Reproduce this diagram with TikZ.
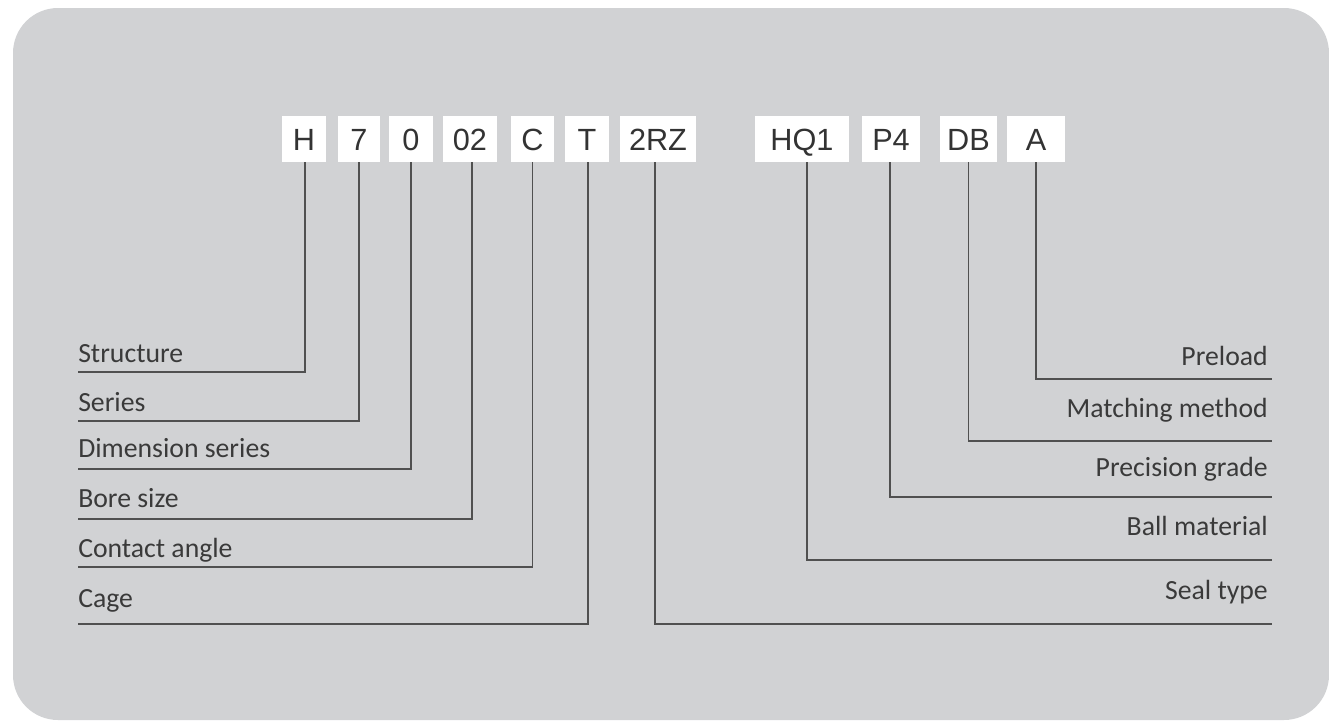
\documentclass[tikz,border=0pt]{standalone}
\usepackage{fontspec}
\setmainfont{Carlito}
\newfontfamily\boxfont{Liberation Sans}
\definecolor{bgc}{HTML}{D1D2D4}
\definecolor{txtc}{HTML}{3A3A3A}
\definecolor{linec}{HTML}{505050}
\definecolor{boxtxt}{HTML}{333333}
\begin{document}
\begin{tikzpicture}[x=0.75pt,y=-0.75pt,
  codebox/.style={fill=white, inner sep=0pt, minimum height=34.5pt,
    text height=16.6pt, text depth=0pt,
    font=\boxfont\fontsize{23}{23}\selectfont, text=boxtxt},
  lbl/.style={inner sep=0pt, font=\fontsize{20.8}{21}\selectfont, text=txtc},
  conn/.style={draw=linec, line width=1.4pt}]
\useasboundingbox (0,0) rectangle (1329,725);
\fill[bgc, rounded corners=33.75pt] (13,8) rectangle (1329,720);

% code boxes
\node[codebox, minimum width=33pt]   (bH)  at (304,139)   {H};
\node[codebox, minimum width=31.5pt] (b7)  at (359,139)   {7};
\node[codebox, minimum width=33pt]   (b0)  at (411,139)   {0};
\node[codebox, minimum width=40.5pt] (b02) at (470,139)   {02};
\node[codebox, minimum width=32.25pt](bC)  at (532.5,139) {C};
\node[codebox, minimum width=33pt]   (bT)  at (587,139)   {T};
\node[codebox, minimum width=57pt]   (bRZ) at (658,139)   {2RZ};
\node[codebox, minimum width=70.5pt] (bHQ) at (802,139)   {HQ1};
\node[codebox, minimum width=43.5pt] (bP)  at (891,139)   {P4};
\node[codebox, minimum width=42.75pt](bDB) at (968.5,139) {DB};
\node[codebox, minimum width=43.5pt] (bA)  at (1036,139)  {A};

% labels left
\node[lbl, anchor=base west] (lH)  at (78,362)   {Structure};
\node[lbl, anchor=base west] (l7)  at (78,411)   {Series};
\node[lbl, anchor=base west] (l0)  at (78,457)   {Dimension series};
\node[lbl, anchor=base west] (l02) at (78,507)   {Bore size};
\node[lbl, anchor=base west] (lC)  at (78,557)   {Contact angle};
\node[lbl, anchor=base west] (lT)  at (78,607)   {Cage};
% labels right
\node[lbl, anchor=base east] (lA)  at (1268,365) {Preload};
\node[lbl, anchor=base east] (lDB) at (1268,417) {Matching method};
\node[lbl, anchor=base east] (lP)  at (1268,476) {Precision grade};
\node[lbl, anchor=base east] (lHQ) at (1268,535) {Ball material};
\node[lbl, anchor=base east] (lRZ) at (1268,599) {Seal type};

% line ends
\coordinate (eH)  at (78,372);
\coordinate (e7)  at (78,421);
\coordinate (e0)  at (78,469);
\coordinate (e02) at (78,519);
\coordinate (eC)  at (78,567);
\coordinate (eT)  at (78,624);
\coordinate (eA)  at (1272,379);
\coordinate (eDB) at (1272,441);
\coordinate (eP)  at (1272,497);
\coordinate (eHQ) at (1272,560);
\coordinate (eRZ) at (1272,624);

% connectors
\draw[conn] ([xshift=0.75pt]bH.south) |- (eH);
\draw[conn] (b7.south) |- (e7);
\draw[conn] (b0.south) |- (e0);
\draw[conn] ([xshift=1.5pt]b02.south) |- (e02);
\draw[conn] (bC.south) |- (eC);
\draw[conn] ([xshift=0.75pt]bT.south) |- (eT);
\draw[conn] ([xshift=-2.25pt]bRZ.south) |- (eRZ);
\draw[conn] ([xshift=3.75pt]bHQ.south) |- (eHQ);
\draw[conn] ([xshift=-0.75pt]bP.south) |- (eP);
\draw[conn] (bDB.south) |- (eDB);
\draw[conn] (bA.south) |- (eA);
\end{tikzpicture}
\end{document}
